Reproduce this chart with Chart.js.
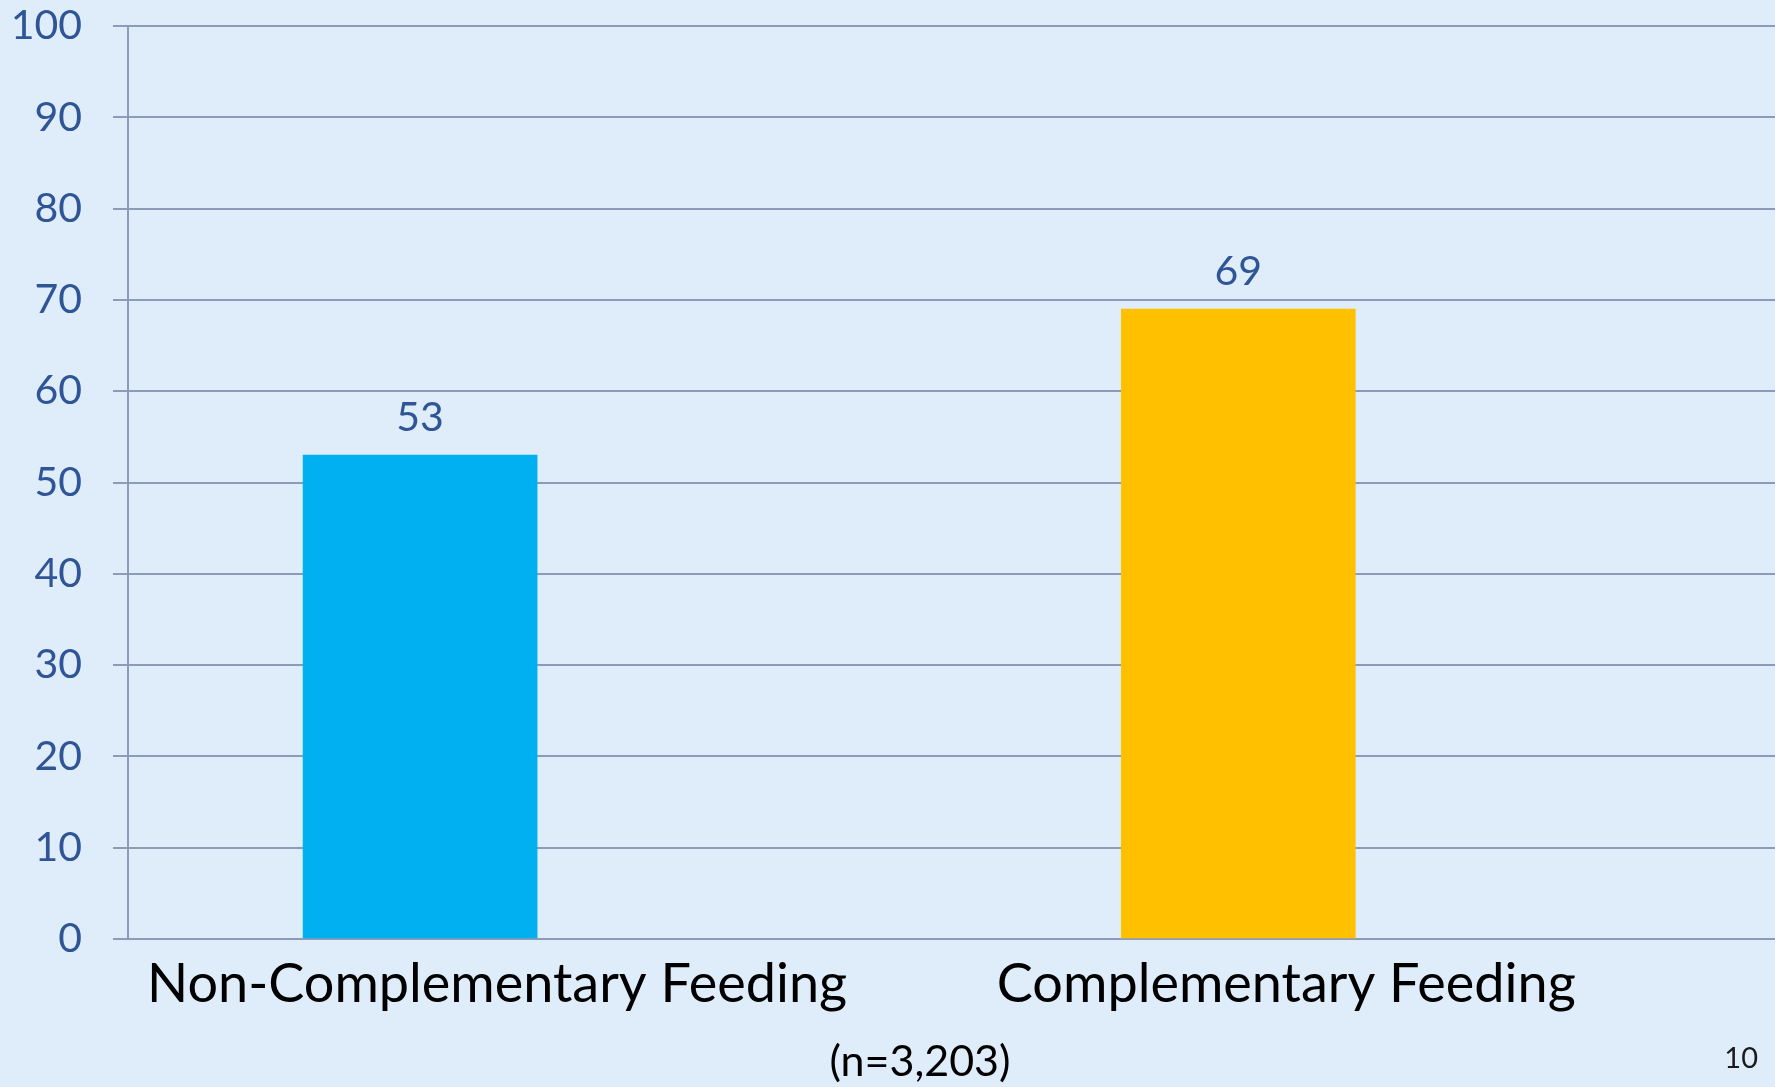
<!DOCTYPE html>
<html>
<head>
<meta charset="utf-8">
<script src="https://cdn.jsdelivr.net/npm/chart.js@4.4.1/dist/chart.umd.min.js"></script>
<style>
  html, body { margin: 0; padding: 0; background: #dfedfa; overflow: hidden; }
  canvas { display: block; }
</style>
</head>
<body>
<canvas id="chart" width="1775" height="1087"></canvas>
<script>
// chart data
const categories = ['Non-Complementary Feeding', 'Complementary Feeding'];
const values = [53, 69];
const barColors = ['#00b0f0', '#ffc000'];
const yTicks = [0, 10, 20, 30, 40, 50, 60, 70, 80, 90, 100];
const sampleNote = '(n=3,203)';
const slideNumber = '10';

const blueText = '#2f5597';
const gridColor = '#8d9bb8';
const fontFamily = 'Lato, "Open Sans", sans-serif';

// category labels sit a bit right of their bars on the slide
const labelShift = [77, 48];

const slideText = {
    id: 'slideText',
    afterDatasetsDraw(chart) {
        const ctx = chart.ctx;
        const meta = chart.getDatasetMeta(0);
        ctx.save();
        ctx.textAlign = 'center';
        ctx.textBaseline = 'alphabetic';

        // value labels above bars
        ctx.fillStyle = blueText;
        ctx.font = `41px ${fontFamily}`;
        meta.data.forEach((bar, i) => ctx.fillText(String(values[i]), bar.x, bar.y - 24));

        // category labels
        ctx.fillStyle = '#000000';
        ctx.font = `54px ${fontFamily}`;
        meta.data.forEach((bar, i) => ctx.fillText(categories[i], bar.x + labelShift[i], 1002));

        // sample size note
        ctx.font = `43px ${fontFamily}`;
        ctx.fillText(sampleNote, 920, 1076);

        // slide number
        ctx.textAlign = 'right';
        ctx.font = `29px ${fontFamily}`;
        ctx.fillStyle = '#1a1a1a';
        ctx.fillText(slideNumber, 1758, 1068);
        ctx.restore();
    }
};

new Chart(document.getElementById('chart'), {
    type: 'bar',
    data: {
        datasets: [{
            data: values.map((v, i) => ({ x: i, y: v })),
            backgroundColor: barColors,
            borderWidth: 0,
            barThickness: 234
        }]
    },
    options: {
        responsive: false,
        animation: false,
        layout: { padding: { top: 26, bottom: 148, left: 0, right: 0 } },
        plugins: {
            legend: { display: false },
            tooltip: { enabled: false }
        },
        scales: {
            x: {
                type: 'linear',
                display: false,
                offset: false,
                min: -0.357,
                max: 1.656
            },
            y: {
                min: 0,
                max: 100,
                afterBuildTicks: (scale) => { scale.ticks = yTicks.map(v => ({ value: v })); },
                afterFit: (scale) => {
                    scale.width = 128;
                    // let layout padding decide the top/bottom of the plot
                    scale.paddingTop = 0;
                    scale.paddingBottom = 0;
                },
                ticks: {
                    color: blueText,
                    font: { family: fontFamily, size: 41 },
                    padding: 31
                },
                grid: {
                    color: gridColor,
                    lineWidth: 2,
                    tickLength: 15,
                    drawTicks: true
                },
                border: { color: gridColor, width: 2 }
            }
        }
    },
    plugins: [slideText]
});
</script>
</body>
</html>
